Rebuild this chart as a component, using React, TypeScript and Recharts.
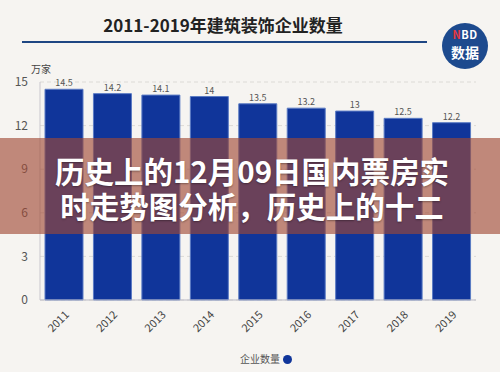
import { Bar, BarChart, CartesianGrid, LabelList, XAxis, YAxis } from "recharts";

const YEARS = ["2011", "2012", "2013", "2014", "2015", "2016", "2017", "2018", "2019"];
const COMPANIES = [14.5, 14.2, 14.1, 14, 13.5, 13.2, 13, 12.5, 12.2];
const Y_TICKS = [0, 3, 6, 9, 12, 15];

const TITLE = "2011-2019年建筑装饰企业数量";
const UNIT = "万家";
const SERIES_NAME = "企业数量";
const BANNER_LINES = ["历史上的12月09日国内票房实", "时走势图分析，历史上的十二"];

const FONT = '"Noto Sans CJK SC", "Noto Sans", sans-serif';
const BG = "#f6f4f1";
const BAR_BLUE = "#10359a";
const LOGO_BLUE = "#1d4a8e";

const data = YEARS.map((year, i) => ({ year, value: COMPANIES[i] }));

export default function App() {
  return (
    <div
      style={{
        position: "fixed",
        left: 0,
        top: 0,
        width: 500,
        height: 372,
        background: BG,
        fontFamily: FONT,
        overflow: "hidden",
      }}
    >
      {/* title + rule */}
      <div
        style={{
          position: "absolute",
          left: 0,
          width: 446,
          top: 12,
          textAlign: "center",
          fontSize: 17,
          fontWeight: 700,
          color: "#222",
          lineHeight: "26px",
        }}
      >
        {TITLE}
      </div>
      <div
        style={{ position: "absolute", left: 22, top: 41, width: 405, height: 2, background: "#1e4683" }}
      />

      {/* NBD logo */}
      <div
        style={{
          position: "absolute",
          left: 442,
          top: 23,
          width: 46,
          height: 46,
          borderRadius: "50%",
          background: LOGO_BLUE,
        }}
      />
      <div
        style={{
          position: "absolute",
          left: 442,
          top: 26,
          width: 46,
          textAlign: "center",
          color: "#fff",
          fontWeight: 700,
          fontSize: 11,
          lineHeight: "16px",
          letterSpacing: 0.5,
        }}
      >
        <span style={{ color: "#e8383d" }}>N</span>BD
      </div>
      <div
        style={{
          position: "absolute",
          left: 442,
          top: 42,
          width: 46,
          textAlign: "center",
          color: "#fff",
          fontWeight: 700,
          fontSize: 14,
          lineHeight: "20px",
        }}
      >
        数据
      </div>

      <div style={{ position: "absolute", left: 31, top: 61, fontSize: 10, color: "#444" }}>{UNIT}</div>

      <div style={{ position: "absolute", left: 0, top: 0 }}>
        <BarChart width={500} height={372} data={data} margin={{ top: 82, right: 24, bottom: 22, left: 0 }}>
          <CartesianGrid vertical={false} stroke="#dcdad6" strokeDasharray="4 3" />
          <XAxis
            dataKey="year"
            interval={0}
            angle={-45}
            textAnchor="end"
            height={50}
            tickLine={false}
            tickMargin={4}
            axisLine={{ stroke: "#b9b9c6" }}
            tick={{ fill: "#444", fontSize: 11, fontFamily: FONT }}
          />
          <YAxis
            domain={[0, 15]}
            ticks={Y_TICKS}
            width={40}
            tickLine={false}
            tickMargin={6}
            axisLine={{ stroke: "#c9c6cc" }}
            tick={{ fill: "#555", fontSize: 12, fontFamily: FONT }}
          />
          <Bar dataKey="value" fill={BAR_BLUE} stroke="#5b7bc4" strokeWidth={1} barSize={38} isAnimationActive={false}>
            <LabelList dataKey="value" position="top" offset={3} fill="#555" fontSize={9} fontFamily={FONT} />
          </Bar>
        </BarChart>
      </div>

      {/* legend */}
      <div
        style={{
          position: "absolute",
          left: 240,
          top: 351,
          display: "flex",
          alignItems: "center",
          fontSize: 10,
          color: "#555",
          lineHeight: "16px",
        }}
      >
        <span>{SERIES_NAME}</span>
        <span
          style={{ display: "inline-block", width: 9, height: 9, borderRadius: "50%", background: BAR_BLUE, marginLeft: 3 }}
        />
      </div>

      {/* overlay banner */}
      <div
        style={{
          position: "absolute",
          left: 0,
          top: 138,
          width: 500,
          height: 96,
          background: "rgba(160,73,52,0.63)",
        }}
      />
      {BANNER_LINES.map((l, i) => (
        <div
          key={l}
          style={{
            position: "absolute",
            left: 2,
            top: 153 + i * 35,
            width: 500,
            textAlign: "center",
            color: "#fff",
            fontWeight: 700,
            fontSize: 29.5,
            lineHeight: "34px",
            textShadow: "0 1px 2px rgba(0,0,0,0.35)",
          }}
        >
          {l}
        </div>
      ))}
    </div>
  );
}
